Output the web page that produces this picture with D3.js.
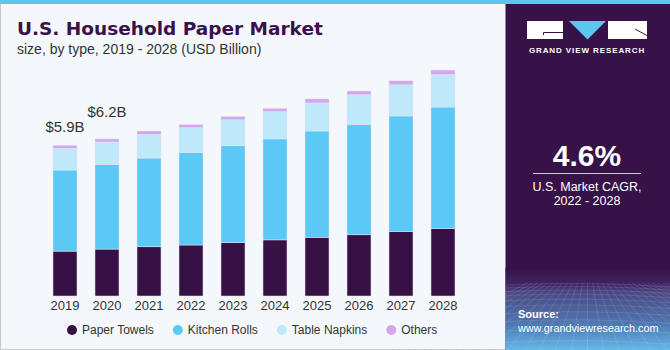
<!DOCTYPE html>
<html>
<head>
<meta charset="utf-8">
<script src="https://cdn.jsdelivr.net/npm/d3@7"></script>
<style>
  body { margin: 0; background: #fff; }
  svg { display: block; font-family: "Liberation Sans", Arial, sans-serif; }
</style>
</head>
<body>
<svg id="chart" width="670" height="350"></svg>
<script>
// values (USD Billion)
const years = ["2019", "2020", "2021", "2022", "2023", "2024", "2025", "2026", "2027", "2028"];
const paperTowels  = [1.76, 1.84, 1.93, 2.00, 2.09, 2.20, 2.30, 2.40, 2.52, 2.64];
const kitchenRolls = [3.18, 3.31, 3.48, 3.62, 3.80, 3.96, 4.17, 4.33, 4.54, 4.77];
const tableNapkins = [0.85, 0.89, 0.93, 0.98, 1.02, 1.07, 1.10, 1.16, 1.22, 1.27];
const others       = [0.12, 0.12, 0.13, 0.12, 0.13, 0.13, 0.16, 0.15, 0.16, 0.18];
const seriesNames = ["Paper Towels", "Kitchen Rolls", "Table Napkins", "Others"];
const valueLabels = ["$5.9B", "$6.2B"];
const cagr = "4.6%";

const W = 670, H = 350;
const svg = d3.select("#chart");

// background + frame
svg.append("rect").attr("width", W).attr("height", H).attr("fill", "#f4f8fc");
svg.append("rect").attr("x", 0.5).attr("y", 0.5).attr("width", W - 1).attr("height", H - 1)
  .attr("fill", "none").attr("stroke", "#c9c9c9");

// right side panel
const panelX = 505.5;
const defs = svg.append("defs");
const grad = defs.append("linearGradient").attr("id", "panelGrad")
  .attr("x1", 0).attr("y1", 0).attr("x2", 0).attr("y2", 1);
grad.append("stop").attr("offset", "0%").attr("stop-color", "#371248");
grad.append("stop").attr("offset", "20%").attr("stop-color", "#3f2565");
grad.append("stop").attr("offset", "30%").attr("stop-color", "#4a4883");
grad.append("stop").attr("offset", "70%").attr("stop-color", "#4f7ab4");
grad.append("stop").attr("offset", "100%").attr("stop-color", "#63b9e8");

svg.append("rect").attr("x", panelX).attr("y", 0).attr("width", W - panelX).attr("height", H)
  .attr("fill", "#371248");
svg.append("rect").attr("x", panelX).attr("y", 268).attr("width", W - panelX).attr("height", H - 268)
  .attr("fill", "url(#panelGrad)");

// faint perspective mesh in the panel footer
const mesh = svg.append("g").attr("stroke", "#ffffff").attr("stroke-opacity", 0.16)
  .attr("stroke-width", 0.7).attr("fill", "none");
let my = 285, gap = 3;
while (my < H) {
  mesh.append("path").attr("d", `M${panelX},${my} Q${(panelX + W) / 2},${my - 4} ${W},${my + 2}`);
  my += gap; gap *= 1.18;
}
for (let i = -12; i <= 24; i++) {
  const xTop = panelX + 82 + i * 5;
  const xBot = panelX + 82 + i * 16;
  mesh.append("line").attr("x1", xTop).attr("y1", 283).attr("x2", xBot).attr("y2", H);
}

// top accent strip
svg.append("rect").attr("x", 0).attr("y", 0).attr("width", W).attr("height", 4).attr("fill", "#5bc6ef");

// title
svg.append("text").attr("x", 17).attr("y", 35)
  .style("font-family", "'DejaVu Sans', sans-serif").style("font-weight", "bold")
  .style("font-size", "18.5px").attr("fill", "#3a1149")
  .text("U.S. Household Paper Market");
svg.append("text").attr("x", 17).attr("y", 54)
  .style("font-size", "14px").attr("fill", "#333")
  .text("size, by type, 2019 - 2028 (USD Billion)");

// scales
const x = d3.scaleBand().domain(years).range([44, 464])
  .paddingInner(0.4286).paddingOuter(0.2143);
const y = d3.scaleLinear().domain([0, 9.5]).range([296, 296 - 9.5 * 25.5]);
const color = d3.scaleOrdinal().domain(seriesNames)
  .range(["#371046", "#5bc9f5", "#bde9fa", "#d4a6ee"]);

const rows = years.map((yr, i) => ({
  year: yr,
  "Paper Towels": paperTowels[i],
  "Kitchen Rolls": kitchenRolls[i],
  "Table Napkins": tableNapkins[i],
  "Others": others[i]
}));
const stacked = d3.stack().keys(seriesNames)(rows);

// bars
svg.append("g").selectAll("g")
  .data(stacked)
  .join("g")
  .attr("fill", d => color(d.key))
  .selectAll("rect")
  .data(d => d)
  .join("rect")
  .attr("x", d => x(d.data.year))
  .attr("width", x.bandwidth())
  .attr("y", d => y(d[1]))
  .attr("height", d => y(d[0]) - y(d[1]))
  .attr("stroke", "#e8e2f0").attr("stroke-width", 0.5);

// year axis
const xAxis = svg.append("g").attr("transform", `translate(0,${y(0)})`)
  .call(d3.axisBottom(x).tickSize(0).tickPadding(5));
xAxis.select(".domain").remove();
xAxis.selectAll("text").style("font-size", "13px").attr("fill", "#333")
  .style("font-family", "'Liberation Sans', Arial, sans-serif");

// totals above the first bars
const totals = rows.map(r => seriesNames.reduce((s, k) => s + r[k], 0));
const labelLift = [13.5, 22];
svg.append("g").selectAll("text")
  .data(valueLabels)
  .join("text")
  .attr("x", (d, i) => x(years[i]) + x.bandwidth() / 2)
  .attr("y", (d, i) => y(totals[i]) - labelLift[i])
  .attr("text-anchor", "middle")
  .style("font-size", "15px").attr("fill", "#333")
  .text(d => d);

// legend
const legend = svg.append("g").attr("transform", "translate(72,330)");
let lx = 0;
seriesNames.forEach(name => {
  const g = legend.append("g").attr("transform", `translate(${lx},0)`);
  g.append("circle").attr("r", 5).attr("fill", color(name));
  const t = g.append("text").attr("x", 10).attr("y", 4.3)
    .style("font-size", "12px").attr("fill", "#333").text(name);
  lx += 10 + t.node().getComputedTextLength() + 24;
});

// logo
const logo = svg.append("g");
logo.append("rect").attr("x", 527).attr("y", 21).attr("width", 36).attr("height", 18).attr("fill", "#fff");
logo.append("path").attr("d", "M569,21 L606,21 L587.5,39.5 Z").attr("fill", "#5bc8f2");
logo.append("rect").attr("x", 608).attr("y", 21).attr("width", 39).attr("height", 18).attr("fill", "#fff");
logo.append("path").attr("d", "M543.5,35 V32.5 H563").attr("stroke", "#371248").attr("stroke-width", 1).attr("fill", "none");
logo.append("path").attr("d", "M635,29 L647,35.5").attr("stroke", "#371248").attr("stroke-width", 1).attr("fill", "none");
logo.append("text").attr("x", 587).attr("y", 53).attr("text-anchor", "middle")
  .style("font-size", "8px").style("font-weight", "bold").style("letter-spacing", "0.9px")
  .attr("fill", "#fff").text("GRAND VIEW RESEARCH");

// CAGR block
svg.append("text").attr("x", 587).attr("y", 166).attr("text-anchor", "middle")
  .style("font-size", "30px").style("font-weight", "bold").attr("fill", "#fff").text(cagr);
svg.append("line").attr("x1", 533).attr("x2", 641).attr("y1", 173.5).attr("y2", 173.5)
  .attr("stroke", "#cfc6d8").attr("stroke-width", 1);
svg.append("text").attr("x", 587).attr("y", 191).attr("text-anchor", "middle")
  .style("font-size", "12.5px").attr("fill", "#fff").text("U.S. Market CAGR,");
svg.append("text").attr("x", 587).attr("y", 205).attr("text-anchor", "middle")
  .style("font-size", "12.5px").attr("fill", "#fff").text("2022 - 2028");

// source
svg.append("text").attr("x", 518).attr("y", 318)
  .style("font-size", "11px").style("font-weight", "bold").attr("fill", "#fff").text("Source:");
svg.append("text").attr("x", 518).attr("y", 332)
  .style("font-size", "10.8px").attr("fill", "#fff").text("www.grandviewresearch.com");
</script>
</body>
</html>
